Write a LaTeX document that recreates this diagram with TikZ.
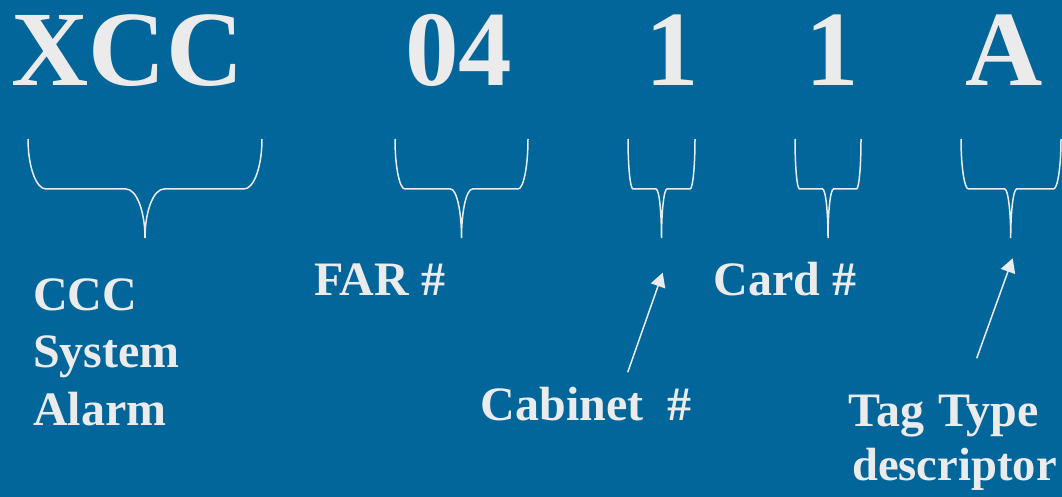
\documentclass[tikz,border=0pt]{standalone}
\usepackage{fontspec}
\setmainfont{Liberation Serif}
\usetikzlibrary{arrows.meta}
\definecolor{bgblue}{HTML}{02669A}
\definecolor{fg}{HTML}{EBEBEB}
% brace: left x, right x, tip x, side offset, middle offset
\newcommand\tagbrace[5]{%
  \draw[bracestyle] (#1,139) .. controls (#1,166.5) and ({#1+0.45*#4},189) .. ({#1+#4},189)
    -- ({#3-#5},189) .. controls ({#3-0.45*#5},189) and (#3,211) .. (#3,238)
    .. controls (#3,211) and ({#3+0.45*#5},189) .. ({#3+#5},189)
    -- ({#2-#4},189) .. controls ({#2-0.45*#4},189) and (#2,166.5) .. (#2,139);}
\begin{document}
\begin{tikzpicture}[x=1pt,y=-1pt,
  big/.style={font=\fontsize{107}{107}\selectfont\bfseries, text=fg, inner sep=0, anchor=base},
  lbl/.style={font=\fontsize{48}{48}\selectfont\bfseries, text=fg, inner sep=0, anchor=base west},
  bracestyle/.style={draw=fg, line width=1.5pt},
  pointer/.style={draw=fg, line width=1.5pt, -{Triangle[length=14pt,width=15pt]}}]
\fill[bgblue] (0,0) rectangle (1062,497);
\useasboundingbox (0,0) rectangle (1062,497);

% code parts
\node[big] (xcc) at (127.5,86) {XCC};
\node[big] (far) at (458.6,86) {04};
\node[big] (cab) at (672,86) {1};
\node[big] (card) at (832,86) {1};
\node[big] (tag) at (1004,86) {A};

% braces
\tagbrace{28}{262}{145}{18}{19}
\tagbrace{395}{528}{461.5}{10}{11}
\tagbrace{628}{695}{661.5}{5}{5.5}
\tagbrace{795}{861}{828}{4.5}{5.5}
\tagbrace{961}{1061}{1010.7}{7.5}{6}

% labels
\node[lbl] (ccc) at (33,310) {CCC};
\node[lbl] (system) at (33,367) {System};
\node[lbl] (alarm) at (33,425) {Alarm};
\node[lbl] (farlbl) at (314,295) {FAR \#};
\node[lbl] (cardlbl) at (713.5,295) {Card \#};
\node[lbl] (cablbl) at (480.5,420) {Cabinet\ \ \#};
\node[lbl] (taglbl) at (848.5,426.7) {Tag\hspace{14pt}Type};
\node[lbl, font=\fontsize{46.6}{48}\selectfont\bfseries] (desclbl) at (852,480) {descriptor};

% pointers
\coordinate (cabtail) at (627.7,372.3);
\coordinate (cabtip) at (662.7,272.7);
\coordinate (tagtail) at (976.7,358.3);
\coordinate (tagtip) at (1012.7,258.3);
\draw[pointer] (cabtail) -- (cabtip);
\draw[pointer] (tagtail) -- (tagtip);
\end{tikzpicture}
\end{document}
